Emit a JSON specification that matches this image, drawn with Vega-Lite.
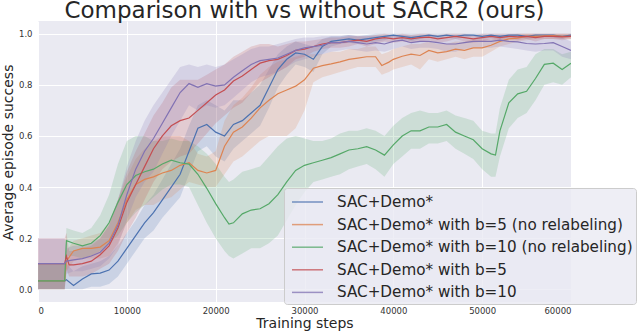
{
"$schema":"https://vega.github.io/schema/vega-lite/v6.json",
"width":533,"height":281,
"autosize":{"type":"none"},
"padding":{"left":38,"top":21,"right":69,"bottom":31},
"background":"white",
"title":{"text":"Comparison with vs without SACR2 (ours)","font":"DejaVu Sans","fontSize":23,"fontWeight":"normal","color":"#262626","anchor":"middle","frame":"group","baseline":"alphabetic","offset":-1,"dy":19},
"config":{
 "view":{"fill":"#EAEAF2","stroke":null},
 "axis":{"domain":false,"ticks":false,"grid":true,"gridColor":"#FFFFFF","gridWidth":1,"labelFont":"DejaVu Sans","labelFontSize":8.5,"labelColor":"#333333","titleFont":"DejaVu Sans","titleFontSize":14,"titleFontWeight":"normal","titleColor":"#262626"}
},
"datasets":{"d":[
{"s":"SAC+Demo*","x":0,"m":0.033,"lo":0,"hi":0.1},{"s":"SAC+Demo*","x":3000,"m":0.033,"lo":0,"hi":0.1},{"s":"SAC+Demo*","x":3200,"m":0.037,"lo":0,"hi":0.1},{"s":"SAC+Demo*","x":4000,"m":0.015,"lo":0,"hi":0.07},{"s":"SAC+Demo*","x":5000,"m":0.04,"lo":0,"hi":0.09},{"s":"SAC+Demo*","x":6000,"m":0.06,"lo":0.01,"hi":0.1},{"s":"SAC+Demo*","x":7000,"m":0.063,"lo":0.01,"hi":0.11},{"s":"SAC+Demo*","x":8000,"m":0.075,"lo":0.02,"hi":0.13},{"s":"SAC+Demo*","x":9000,"m":0.11,"lo":0.05,"hi":0.17},{"s":"SAC+Demo*","x":10000,"m":0.16,"lo":0.1,"hi":0.22},{"s":"SAC+Demo*","x":11000,"m":0.21,"lo":0.15,"hi":0.27},{"s":"SAC+Demo*","x":12000,"m":0.26,"lo":0.2,"hi":0.33},{"s":"SAC+Demo*","x":13000,"m":0.3,"lo":0.23,"hi":0.37},{"s":"SAC+Demo*","x":14000,"m":0.35,"lo":0.28,"hi":0.43},{"s":"SAC+Demo*","x":15000,"m":0.4,"lo":0.32,"hi":0.49},{"s":"SAC+Demo*","x":16000,"m":0.45,"lo":0.36,"hi":0.55},{"s":"SAC+Demo*","x":17000,"m":0.54,"lo":0.45,"hi":0.64},{"s":"SAC+Demo*","x":18000,"m":0.63,"lo":0.54,"hi":0.72},{"s":"SAC+Demo*","x":19000,"m":0.645,"lo":0.56,"hi":0.74},{"s":"SAC+Demo*","x":20000,"m":0.615,"lo":0.52,"hi":0.72},{"s":"SAC+Demo*","x":21000,"m":0.6,"lo":0.5,"hi":0.7},{"s":"SAC+Demo*","x":22000,"m":0.645,"lo":0.55,"hi":0.74},{"s":"SAC+Demo*","x":23000,"m":0.66,"lo":0.58,"hi":0.74},{"s":"SAC+Demo*","x":24000,"m":0.69,"lo":0.61,"hi":0.77},{"s":"SAC+Demo*","x":25000,"m":0.72,"lo":0.64,"hi":0.8},{"s":"SAC+Demo*","x":26000,"m":0.79,"lo":0.71,"hi":0.86},{"s":"SAC+Demo*","x":27000,"m":0.86,"lo":0.79,"hi":0.92},{"s":"SAC+Demo*","x":28000,"m":0.9,"lo":0.84,"hi":0.95},{"s":"SAC+Demo*","x":29000,"m":0.925,"lo":0.88,"hi":0.97},{"s":"SAC+Demo*","x":30000,"m":0.92,"lo":0.87,"hi":0.96},{"s":"SAC+Demo*","x":31000,"m":0.9,"lo":0.85,"hi":0.95},{"s":"SAC+Demo*","x":32000,"m":0.95,"lo":0.92,"hi":0.98},{"s":"SAC+Demo*","x":33000,"m":0.97,"lo":0.95,"hi":0.99},{"s":"SAC+Demo*","x":34000,"m":0.975,"lo":0.96,"hi":0.99},{"s":"SAC+Demo*","x":35000,"m":0.98,"lo":0.965,"hi":0.995},{"s":"SAC+Demo*","x":36000,"m":0.975,"lo":0.96,"hi":0.99},{"s":"SAC+Demo*","x":37000,"m":0.98,"lo":0.965,"hi":0.995},{"s":"SAC+Demo*","x":38000,"m":0.985,"lo":0.97,"hi":1},{"s":"SAC+Demo*","x":39000,"m":0.99,"lo":0.975,"hi":1},{"s":"SAC+Demo*","x":40000,"m":0.995,"lo":0.985,"hi":1},{"s":"SAC+Demo*","x":41000,"m":0.99,"lo":0.98,"hi":1},{"s":"SAC+Demo*","x":42000,"m":0.985,"lo":0.97,"hi":1},{"s":"SAC+Demo*","x":43000,"m":0.99,"lo":0.98,"hi":1},{"s":"SAC+Demo*","x":44000,"m":0.995,"lo":0.985,"hi":1},{"s":"SAC+Demo*","x":45000,"m":0.99,"lo":0.98,"hi":1},{"s":"SAC+Demo*","x":46000,"m":0.995,"lo":0.985,"hi":1},{"s":"SAC+Demo*","x":47000,"m":0.99,"lo":0.98,"hi":1},{"s":"SAC+Demo*","x":48000,"m":0.995,"lo":0.985,"hi":1},{"s":"SAC+Demo*","x":49000,"m":0.995,"lo":0.99,"hi":1},{"s":"SAC+Demo*","x":50000,"m":0.99,"lo":0.98,"hi":1},{"s":"SAC+Demo*","x":51000,"m":0.995,"lo":0.985,"hi":1},{"s":"SAC+Demo*","x":52000,"m":0.99,"lo":0.98,"hi":1},{"s":"SAC+Demo*","x":53000,"m":0.995,"lo":0.985,"hi":1},{"s":"SAC+Demo*","x":54000,"m":0.995,"lo":0.99,"hi":1},{"s":"SAC+Demo*","x":55000,"m":0.99,"lo":0.98,"hi":1},{"s":"SAC+Demo*","x":56000,"m":0.995,"lo":0.985,"hi":1},{"s":"SAC+Demo*","x":57000,"m":0.995,"lo":0.99,"hi":1},{"s":"SAC+Demo*","x":58000,"m":0.995,"lo":0.985,"hi":1},{"s":"SAC+Demo*","x":59000,"m":0.99,"lo":0.98,"hi":1},{"s":"SAC+Demo*","x":60000,"m":0.995,"lo":0.985,"hi":1},

{"s":"SAC+Demo* with b=5 (no relabeling)","x":0,"m":0.033,"lo":0,"hi":0.1},{"s":"SAC+Demo* with b=5 (no relabeling)","x":3000,"m":0.033,"lo":0,"hi":0.1},{"s":"SAC+Demo* with b=5 (no relabeling)","x":3200,"m":0.11,"lo":0.07,"hi":0.15},{"s":"SAC+Demo* with b=5 (no relabeling)","x":4000,"m":0.15,"lo":0.11,"hi":0.19},{"s":"SAC+Demo* with b=5 (no relabeling)","x":5000,"m":0.16,"lo":0.12,"hi":0.2},{"s":"SAC+Demo* with b=5 (no relabeling)","x":6000,"m":0.16,"lo":0.12,"hi":0.21},{"s":"SAC+Demo* with b=5 (no relabeling)","x":7000,"m":0.165,"lo":0.12,"hi":0.22},{"s":"SAC+Demo* with b=5 (no relabeling)","x":8000,"m":0.19,"lo":0.13,"hi":0.26},{"s":"SAC+Demo* with b=5 (no relabeling)","x":9000,"m":0.26,"lo":0.18,"hi":0.35},{"s":"SAC+Demo* with b=5 (no relabeling)","x":10000,"m":0.35,"lo":0.26,"hi":0.44},{"s":"SAC+Demo* with b=5 (no relabeling)","x":11000,"m":0.41,"lo":0.31,"hi":0.51},{"s":"SAC+Demo* with b=5 (no relabeling)","x":12000,"m":0.43,"lo":0.33,"hi":0.55},{"s":"SAC+Demo* with b=5 (no relabeling)","x":13000,"m":0.44,"lo":0.33,"hi":0.58},{"s":"SAC+Demo* with b=5 (no relabeling)","x":14000,"m":0.455,"lo":0.35,"hi":0.6},{"s":"SAC+Demo* with b=5 (no relabeling)","x":15000,"m":0.465,"lo":0.36,"hi":0.6},{"s":"SAC+Demo* with b=5 (no relabeling)","x":16000,"m":0.485,"lo":0.39,"hi":0.6},{"s":"SAC+Demo* with b=5 (no relabeling)","x":17000,"m":0.495,"lo":0.42,"hi":0.58},{"s":"SAC+Demo* with b=5 (no relabeling)","x":18000,"m":0.465,"lo":0.41,"hi":0.53},{"s":"SAC+Demo* with b=5 (no relabeling)","x":19000,"m":0.455,"lo":0.4,"hi":0.52},{"s":"SAC+Demo* with b=5 (no relabeling)","x":20000,"m":0.465,"lo":0.4,"hi":0.54},{"s":"SAC+Demo* with b=5 (no relabeling)","x":21000,"m":0.56,"lo":0.45,"hi":0.66},{"s":"SAC+Demo* with b=5 (no relabeling)","x":22000,"m":0.615,"lo":0.5,"hi":0.72},{"s":"SAC+Demo* with b=5 (no relabeling)","x":23000,"m":0.635,"lo":0.52,"hi":0.75},{"s":"SAC+Demo* with b=5 (no relabeling)","x":24000,"m":0.67,"lo":0.55,"hi":0.79},{"s":"SAC+Demo* with b=5 (no relabeling)","x":25000,"m":0.71,"lo":0.58,"hi":0.84},{"s":"SAC+Demo* with b=5 (no relabeling)","x":26000,"m":0.74,"lo":0.6,"hi":0.87},{"s":"SAC+Demo* with b=5 (no relabeling)","x":27000,"m":0.765,"lo":0.6,"hi":0.89},{"s":"SAC+Demo* with b=5 (no relabeling)","x":28000,"m":0.78,"lo":0.6,"hi":0.9},{"s":"SAC+Demo* with b=5 (no relabeling)","x":29000,"m":0.795,"lo":0.63,"hi":0.91},{"s":"SAC+Demo* with b=5 (no relabeling)","x":30000,"m":0.82,"lo":0.7,"hi":0.92},{"s":"SAC+Demo* with b=5 (no relabeling)","x":31000,"m":0.865,"lo":0.81,"hi":0.92},{"s":"SAC+Demo* with b=5 (no relabeling)","x":32000,"m":0.875,"lo":0.83,"hi":0.92},{"s":"SAC+Demo* with b=5 (no relabeling)","x":33000,"m":0.882,"lo":0.84,"hi":0.93},{"s":"SAC+Demo* with b=5 (no relabeling)","x":34000,"m":0.89,"lo":0.85,"hi":0.93},{"s":"SAC+Demo* with b=5 (no relabeling)","x":35000,"m":0.9,"lo":0.86,"hi":0.94},{"s":"SAC+Demo* with b=5 (no relabeling)","x":36000,"m":0.905,"lo":0.87,"hi":0.94},{"s":"SAC+Demo* with b=5 (no relabeling)","x":37000,"m":0.91,"lo":0.87,"hi":0.95},{"s":"SAC+Demo* with b=5 (no relabeling)","x":38000,"m":0.91,"lo":0.87,"hi":0.95},{"s":"SAC+Demo* with b=5 (no relabeling)","x":38700,"m":0.876,"lo":0.84,"hi":0.92},{"s":"SAC+Demo* with b=5 (no relabeling)","x":39500,"m":0.889,"lo":0.85,"hi":0.93},{"s":"SAC+Demo* with b=5 (no relabeling)","x":40000,"m":0.9,"lo":0.86,"hi":0.94},{"s":"SAC+Demo* with b=5 (no relabeling)","x":41000,"m":0.912,"lo":0.87,"hi":0.95},{"s":"SAC+Demo* with b=5 (no relabeling)","x":42000,"m":0.92,"lo":0.88,"hi":0.96},{"s":"SAC+Demo* with b=5 (no relabeling)","x":43000,"m":0.915,"lo":0.86,"hi":0.96},{"s":"SAC+Demo* with b=5 (no relabeling)","x":44000,"m":0.935,"lo":0.9,"hi":0.97},{"s":"SAC+Demo* with b=5 (no relabeling)","x":45000,"m":0.925,"lo":0.89,"hi":0.96},{"s":"SAC+Demo* with b=5 (no relabeling)","x":46000,"m":0.93,"lo":0.9,"hi":0.96},{"s":"SAC+Demo* with b=5 (no relabeling)","x":47000,"m":0.94,"lo":0.91,"hi":0.97},{"s":"SAC+Demo* with b=5 (no relabeling)","x":48000,"m":0.935,"lo":0.9,"hi":0.97},{"s":"SAC+Demo* with b=5 (no relabeling)","x":49000,"m":0.945,"lo":0.91,"hi":0.98},{"s":"SAC+Demo* with b=5 (no relabeling)","x":50000,"m":0.945,"lo":0.91,"hi":0.98},{"s":"SAC+Demo* with b=5 (no relabeling)","x":51000,"m":0.955,"lo":0.93,"hi":0.98},{"s":"SAC+Demo* with b=5 (no relabeling)","x":52000,"m":0.97,"lo":0.95,"hi":0.99},{"s":"SAC+Demo* with b=5 (no relabeling)","x":53000,"m":0.98,"lo":0.96,"hi":0.995},{"s":"SAC+Demo* with b=5 (no relabeling)","x":54000,"m":0.983,"lo":0.97,"hi":1},{"s":"SAC+Demo* with b=5 (no relabeling)","x":55000,"m":0.99,"lo":0.975,"hi":1},{"s":"SAC+Demo* with b=5 (no relabeling)","x":56000,"m":0.99,"lo":0.98,"hi":1},{"s":"SAC+Demo* with b=5 (no relabeling)","x":57000,"m":0.992,"lo":0.98,"hi":1},{"s":"SAC+Demo* with b=5 (no relabeling)","x":58000,"m":0.993,"lo":0.98,"hi":1},{"s":"SAC+Demo* with b=5 (no relabeling)","x":59000,"m":0.99,"lo":0.98,"hi":1},{"s":"SAC+Demo* with b=5 (no relabeling)","x":60000,"m":0.99,"lo":0.98,"hi":1},

{"s":"SAC+Demo* with b=10 (no relabeling)","x":0,"m":0.033,"lo":0,"hi":0.1},{"s":"SAC+Demo* with b=10 (no relabeling)","x":3000,"m":0.033,"lo":0,"hi":0.1},{"s":"SAC+Demo* with b=10 (no relabeling)","x":3200,"m":0.19,"lo":0.13,"hi":0.24},{"s":"SAC+Demo* with b=10 (no relabeling)","x":4000,"m":0.18,"lo":0.13,"hi":0.23},{"s":"SAC+Demo* with b=10 (no relabeling)","x":5000,"m":0.17,"lo":0.12,"hi":0.22},{"s":"SAC+Demo* with b=10 (no relabeling)","x":6000,"m":0.18,"lo":0.13,"hi":0.24},{"s":"SAC+Demo* with b=10 (no relabeling)","x":7000,"m":0.21,"lo":0.15,"hi":0.29},{"s":"SAC+Demo* with b=10 (no relabeling)","x":8000,"m":0.26,"lo":0.18,"hi":0.37},{"s":"SAC+Demo* with b=10 (no relabeling)","x":9000,"m":0.34,"lo":0.21,"hi":0.49},{"s":"SAC+Demo* with b=10 (no relabeling)","x":10000,"m":0.41,"lo":0.26,"hi":0.58},{"s":"SAC+Demo* with b=10 (no relabeling)","x":11000,"m":0.445,"lo":0.3,"hi":0.6},{"s":"SAC+Demo* with b=10 (no relabeling)","x":12000,"m":0.46,"lo":0.33,"hi":0.6},{"s":"SAC+Demo* with b=10 (no relabeling)","x":13000,"m":0.47,"lo":0.36,"hi":0.58},{"s":"SAC+Demo* with b=10 (no relabeling)","x":14000,"m":0.49,"lo":0.39,"hi":0.58},{"s":"SAC+Demo* with b=10 (no relabeling)","x":15000,"m":0.505,"lo":0.41,"hi":0.59},{"s":"SAC+Demo* with b=10 (no relabeling)","x":16000,"m":0.495,"lo":0.41,"hi":0.58},{"s":"SAC+Demo* with b=10 (no relabeling)","x":17000,"m":0.49,"lo":0.4,"hi":0.58},{"s":"SAC+Demo* with b=10 (no relabeling)","x":18000,"m":0.45,"lo":0.33,"hi":0.56},{"s":"SAC+Demo* with b=10 (no relabeling)","x":19000,"m":0.395,"lo":0.26,"hi":0.53},{"s":"SAC+Demo* with b=10 (no relabeling)","x":20000,"m":0.335,"lo":0.2,"hi":0.49},{"s":"SAC+Demo* with b=10 (no relabeling)","x":21000,"m":0.28,"lo":0.15,"hi":0.44},{"s":"SAC+Demo* with b=10 (no relabeling)","x":21500,"m":0.255,"lo":0.13,"hi":0.42},{"s":"SAC+Demo* with b=10 (no relabeling)","x":22000,"m":0.26,"lo":0.12,"hi":0.43},{"s":"SAC+Demo* with b=10 (no relabeling)","x":23000,"m":0.295,"lo":0.14,"hi":0.46},{"s":"SAC+Demo* with b=10 (no relabeling)","x":24000,"m":0.31,"lo":0.16,"hi":0.47},{"s":"SAC+Demo* with b=10 (no relabeling)","x":25000,"m":0.315,"lo":0.16,"hi":0.48},{"s":"SAC+Demo* with b=10 (no relabeling)","x":26000,"m":0.335,"lo":0.18,"hi":0.52},{"s":"SAC+Demo* with b=10 (no relabeling)","x":27000,"m":0.37,"lo":0.21,"hi":0.56},{"s":"SAC+Demo* with b=10 (no relabeling)","x":28000,"m":0.42,"lo":0.27,"hi":0.59},{"s":"SAC+Demo* with b=10 (no relabeling)","x":29000,"m":0.465,"lo":0.33,"hi":0.6},{"s":"SAC+Demo* with b=10 (no relabeling)","x":30000,"m":0.485,"lo":0.38,"hi":0.59},{"s":"SAC+Demo* with b=10 (no relabeling)","x":31000,"m":0.495,"lo":0.42,"hi":0.58},{"s":"SAC+Demo* with b=10 (no relabeling)","x":32000,"m":0.505,"lo":0.43,"hi":0.58},{"s":"SAC+Demo* with b=10 (no relabeling)","x":33000,"m":0.515,"lo":0.44,"hi":0.59},{"s":"SAC+Demo* with b=10 (no relabeling)","x":34000,"m":0.53,"lo":0.45,"hi":0.61},{"s":"SAC+Demo* with b=10 (no relabeling)","x":35000,"m":0.545,"lo":0.47,"hi":0.62},{"s":"SAC+Demo* with b=10 (no relabeling)","x":36000,"m":0.55,"lo":0.48,"hi":0.62},{"s":"SAC+Demo* with b=10 (no relabeling)","x":37000,"m":0.558,"lo":0.49,"hi":0.63},{"s":"SAC+Demo* with b=10 (no relabeling)","x":38000,"m":0.545,"lo":0.47,"hi":0.62},{"s":"SAC+Demo* with b=10 (no relabeling)","x":39000,"m":0.525,"lo":0.44,"hi":0.6},{"s":"SAC+Demo* with b=10 (no relabeling)","x":40000,"m":0.565,"lo":0.49,"hi":0.64},{"s":"SAC+Demo* with b=10 (no relabeling)","x":41000,"m":0.6,"lo":0.52,"hi":0.67},{"s":"SAC+Demo* with b=10 (no relabeling)","x":42000,"m":0.62,"lo":0.55,"hi":0.69},{"s":"SAC+Demo* with b=10 (no relabeling)","x":43000,"m":0.62,"lo":0.55,"hi":0.7},{"s":"SAC+Demo* with b=10 (no relabeling)","x":44000,"m":0.635,"lo":0.57,"hi":0.69},{"s":"SAC+Demo* with b=10 (no relabeling)","x":45000,"m":0.635,"lo":0.57,"hi":0.69},{"s":"SAC+Demo* with b=10 (no relabeling)","x":46000,"m":0.645,"lo":0.58,"hi":0.7},{"s":"SAC+Demo* with b=10 (no relabeling)","x":47000,"m":0.615,"lo":0.55,"hi":0.68},{"s":"SAC+Demo* with b=10 (no relabeling)","x":48000,"m":0.6,"lo":0.53,"hi":0.67},{"s":"SAC+Demo* with b=10 (no relabeling)","x":49000,"m":0.585,"lo":0.51,"hi":0.66},{"s":"SAC+Demo* with b=10 (no relabeling)","x":50000,"m":0.55,"lo":0.47,"hi":0.62},{"s":"SAC+Demo* with b=10 (no relabeling)","x":51000,"m":0.53,"lo":0.44,"hi":0.61},{"s":"SAC+Demo* with b=10 (no relabeling)","x":51500,"m":0.525,"lo":0.44,"hi":0.61},{"s":"SAC+Demo* with b=10 (no relabeling)","x":52000,"m":0.62,"lo":0.52,"hi":0.71},{"s":"SAC+Demo* with b=10 (no relabeling)","x":53000,"m":0.73,"lo":0.63,"hi":0.82},{"s":"SAC+Demo* with b=10 (no relabeling)","x":54000,"m":0.765,"lo":0.67,"hi":0.86},{"s":"SAC+Demo* with b=10 (no relabeling)","x":55000,"m":0.775,"lo":0.69,"hi":0.87},{"s":"SAC+Demo* with b=10 (no relabeling)","x":56000,"m":0.825,"lo":0.74,"hi":0.92},{"s":"SAC+Demo* with b=10 (no relabeling)","x":57000,"m":0.88,"lo":0.8,"hi":0.94},{"s":"SAC+Demo* with b=10 (no relabeling)","x":58000,"m":0.885,"lo":0.81,"hi":0.94},{"s":"SAC+Demo* with b=10 (no relabeling)","x":59000,"m":0.86,"lo":0.8,"hi":0.92},{"s":"SAC+Demo* with b=10 (no relabeling)","x":60000,"m":0.885,"lo":0.83,"hi":0.93},

{"s":"SAC+Demo* with b=5","x":0,"m":0.1,"lo":0,"hi":0.2},{"s":"SAC+Demo* with b=5","x":3000,"m":0.1,"lo":0,"hi":0.2},{"s":"SAC+Demo* with b=5","x":3200,"m":0.13,"lo":0.08,"hi":0.22},{"s":"SAC+Demo* with b=5","x":3500,"m":0.095,"lo":0.05,"hi":0.15},{"s":"SAC+Demo* with b=5","x":4000,"m":0.095,"lo":0.05,"hi":0.15},{"s":"SAC+Demo* with b=5","x":5000,"m":0.1,"lo":0.05,"hi":0.16},{"s":"SAC+Demo* with b=5","x":6000,"m":0.11,"lo":0.06,"hi":0.17},{"s":"SAC+Demo* with b=5","x":7000,"m":0.135,"lo":0.08,"hi":0.2},{"s":"SAC+Demo* with b=5","x":8000,"m":0.17,"lo":0.1,"hi":0.25},{"s":"SAC+Demo* with b=5","x":9000,"m":0.24,"lo":0.15,"hi":0.35},{"s":"SAC+Demo* with b=5","x":10000,"m":0.34,"lo":0.22,"hi":0.46},{"s":"SAC+Demo* with b=5","x":11000,"m":0.41,"lo":0.28,"hi":0.54},{"s":"SAC+Demo* with b=5","x":12000,"m":0.48,"lo":0.35,"hi":0.61},{"s":"SAC+Demo* with b=5","x":13000,"m":0.55,"lo":0.42,"hi":0.68},{"s":"SAC+Demo* with b=5","x":14000,"m":0.6,"lo":0.47,"hi":0.73},{"s":"SAC+Demo* with b=5","x":15000,"m":0.64,"lo":0.5,"hi":0.79},{"s":"SAC+Demo* with b=5","x":16000,"m":0.66,"lo":0.52,"hi":0.82},{"s":"SAC+Demo* with b=5","x":17000,"m":0.67,"lo":0.53,"hi":0.82},{"s":"SAC+Demo* with b=5","x":18000,"m":0.7,"lo":0.57,"hi":0.82},{"s":"SAC+Demo* with b=5","x":19000,"m":0.73,"lo":0.61,"hi":0.84},{"s":"SAC+Demo* with b=5","x":20000,"m":0.76,"lo":0.65,"hi":0.86},{"s":"SAC+Demo* with b=5","x":21000,"m":0.78,"lo":0.68,"hi":0.88},{"s":"SAC+Demo* with b=5","x":22000,"m":0.815,"lo":0.71,"hi":0.91},{"s":"SAC+Demo* with b=5","x":23000,"m":0.835,"lo":0.73,"hi":0.93},{"s":"SAC+Demo* with b=5","x":24000,"m":0.86,"lo":0.77,"hi":0.95},{"s":"SAC+Demo* with b=5","x":25000,"m":0.885,"lo":0.81,"hi":0.96},{"s":"SAC+Demo* with b=5","x":26000,"m":0.895,"lo":0.83,"hi":0.96},{"s":"SAC+Demo* with b=5","x":27000,"m":0.9,"lo":0.85,"hi":0.95},{"s":"SAC+Demo* with b=5","x":28000,"m":0.915,"lo":0.87,"hi":0.96},{"s":"SAC+Demo* with b=5","x":29000,"m":0.935,"lo":0.9,"hi":0.97},{"s":"SAC+Demo* with b=5","x":30000,"m":0.94,"lo":0.91,"hi":0.97},{"s":"SAC+Demo* with b=5","x":31000,"m":0.95,"lo":0.93,"hi":0.975},{"s":"SAC+Demo* with b=5","x":32000,"m":0.96,"lo":0.94,"hi":0.98},{"s":"SAC+Demo* with b=5","x":33000,"m":0.965,"lo":0.945,"hi":0.985},{"s":"SAC+Demo* with b=5","x":34000,"m":0.965,"lo":0.945,"hi":0.985},{"s":"SAC+Demo* with b=5","x":35000,"m":0.97,"lo":0.95,"hi":0.99},{"s":"SAC+Demo* with b=5","x":36000,"m":0.975,"lo":0.96,"hi":0.99},{"s":"SAC+Demo* with b=5","x":37000,"m":0.97,"lo":0.95,"hi":0.99},{"s":"SAC+Demo* with b=5","x":38000,"m":0.98,"lo":0.96,"hi":0.995},{"s":"SAC+Demo* with b=5","x":39000,"m":0.985,"lo":0.97,"hi":1},{"s":"SAC+Demo* with b=5","x":40000,"m":0.98,"lo":0.965,"hi":0.995},{"s":"SAC+Demo* with b=5","x":41000,"m":0.985,"lo":0.97,"hi":1},{"s":"SAC+Demo* with b=5","x":42000,"m":0.98,"lo":0.965,"hi":0.995},{"s":"SAC+Demo* with b=5","x":43000,"m":0.985,"lo":0.97,"hi":1},{"s":"SAC+Demo* with b=5","x":44000,"m":0.987,"lo":0.975,"hi":1},{"s":"SAC+Demo* with b=5","x":45000,"m":0.98,"lo":0.965,"hi":0.995},{"s":"SAC+Demo* with b=5","x":46000,"m":0.985,"lo":0.97,"hi":1},{"s":"SAC+Demo* with b=5","x":47000,"m":0.99,"lo":0.98,"hi":1},{"s":"SAC+Demo* with b=5","x":48000,"m":0.985,"lo":0.97,"hi":1},{"s":"SAC+Demo* with b=5","x":49000,"m":0.98,"lo":0.965,"hi":0.995},{"s":"SAC+Demo* with b=5","x":50000,"m":0.985,"lo":0.97,"hi":1},{"s":"SAC+Demo* with b=5","x":51000,"m":0.99,"lo":0.98,"hi":1},{"s":"SAC+Demo* with b=5","x":52000,"m":0.985,"lo":0.97,"hi":1},{"s":"SAC+Demo* with b=5","x":53000,"m":0.99,"lo":0.98,"hi":1},{"s":"SAC+Demo* with b=5","x":54000,"m":0.988,"lo":0.975,"hi":1},{"s":"SAC+Demo* with b=5","x":55000,"m":0.99,"lo":0.98,"hi":1},{"s":"SAC+Demo* with b=5","x":56000,"m":0.985,"lo":0.97,"hi":1},{"s":"SAC+Demo* with b=5","x":57000,"m":0.99,"lo":0.98,"hi":1},{"s":"SAC+Demo* with b=5","x":58000,"m":0.99,"lo":0.98,"hi":1},{"s":"SAC+Demo* with b=5","x":59000,"m":0.988,"lo":0.975,"hi":1},{"s":"SAC+Demo* with b=5","x":60000,"m":0.99,"lo":0.98,"hi":1},

{"s":"SAC+Demo* with b=10","x":0,"m":0.1,"lo":0,"hi":0.2},{"s":"SAC+Demo* with b=10","x":3000,"m":0.1,"lo":0,"hi":0.2},{"s":"SAC+Demo* with b=10","x":3200,"m":0.11,"lo":0.06,"hi":0.16},{"s":"SAC+Demo* with b=10","x":4000,"m":0.115,"lo":0.07,"hi":0.17},{"s":"SAC+Demo* with b=10","x":5000,"m":0.12,"lo":0.07,"hi":0.17},{"s":"SAC+Demo* with b=10","x":6000,"m":0.13,"lo":0.08,"hi":0.18},{"s":"SAC+Demo* with b=10","x":7000,"m":0.145,"lo":0.09,"hi":0.2},{"s":"SAC+Demo* with b=10","x":8000,"m":0.18,"lo":0.12,"hi":0.25},{"s":"SAC+Demo* with b=10","x":9000,"m":0.25,"lo":0.17,"hi":0.35},{"s":"SAC+Demo* with b=10","x":10000,"m":0.37,"lo":0.27,"hi":0.48},{"s":"SAC+Demo* with b=10","x":11000,"m":0.47,"lo":0.36,"hi":0.58},{"s":"SAC+Demo* with b=10","x":12000,"m":0.54,"lo":0.42,"hi":0.66},{"s":"SAC+Demo* with b=10","x":13000,"m":0.59,"lo":0.46,"hi":0.72},{"s":"SAC+Demo* with b=10","x":14000,"m":0.65,"lo":0.53,"hi":0.77},{"s":"SAC+Demo* with b=10","x":15000,"m":0.71,"lo":0.6,"hi":0.82},{"s":"SAC+Demo* with b=10","x":16000,"m":0.77,"lo":0.66,"hi":0.87},{"s":"SAC+Demo* with b=10","x":17000,"m":0.805,"lo":0.72,"hi":0.88},{"s":"SAC+Demo* with b=10","x":18000,"m":0.79,"lo":0.7,"hi":0.87},{"s":"SAC+Demo* with b=10","x":19000,"m":0.805,"lo":0.72,"hi":0.88},{"s":"SAC+Demo* with b=10","x":20000,"m":0.795,"lo":0.71,"hi":0.87},{"s":"SAC+Demo* with b=10","x":21000,"m":0.8,"lo":0.72,"hi":0.88},{"s":"SAC+Demo* with b=10","x":22000,"m":0.83,"lo":0.75,"hi":0.9},{"s":"SAC+Demo* with b=10","x":23000,"m":0.855,"lo":0.78,"hi":0.92},{"s":"SAC+Demo* with b=10","x":24000,"m":0.88,"lo":0.81,"hi":0.94},{"s":"SAC+Demo* with b=10","x":25000,"m":0.895,"lo":0.83,"hi":0.95},{"s":"SAC+Demo* with b=10","x":26000,"m":0.9,"lo":0.84,"hi":0.95},{"s":"SAC+Demo* with b=10","x":27000,"m":0.905,"lo":0.85,"hi":0.96},{"s":"SAC+Demo* with b=10","x":28000,"m":0.92,"lo":0.87,"hi":0.97},{"s":"SAC+Demo* with b=10","x":29000,"m":0.935,"lo":0.89,"hi":0.98},{"s":"SAC+Demo* with b=10","x":30000,"m":0.945,"lo":0.9,"hi":0.985},{"s":"SAC+Demo* with b=10","x":31000,"m":0.95,"lo":0.91,"hi":0.985},{"s":"SAC+Demo* with b=10","x":32000,"m":0.955,"lo":0.92,"hi":0.99},{"s":"SAC+Demo* with b=10","x":33000,"m":0.965,"lo":0.93,"hi":0.99},{"s":"SAC+Demo* with b=10","x":34000,"m":0.965,"lo":0.935,"hi":0.99},{"s":"SAC+Demo* with b=10","x":35000,"m":0.97,"lo":0.94,"hi":0.995},{"s":"SAC+Demo* with b=10","x":36000,"m":0.965,"lo":0.935,"hi":0.99},{"s":"SAC+Demo* with b=10","x":37000,"m":0.96,"lo":0.93,"hi":0.99},{"s":"SAC+Demo* with b=10","x":38000,"m":0.965,"lo":0.935,"hi":0.99},{"s":"SAC+Demo* with b=10","x":39000,"m":0.96,"lo":0.93,"hi":0.99},{"s":"SAC+Demo* with b=10","x":40000,"m":0.97,"lo":0.94,"hi":0.995},{"s":"SAC+Demo* with b=10","x":41000,"m":0.975,"lo":0.95,"hi":0.995},{"s":"SAC+Demo* with b=10","x":42000,"m":0.965,"lo":0.94,"hi":0.99},{"s":"SAC+Demo* with b=10","x":43000,"m":0.97,"lo":0.945,"hi":0.99},{"s":"SAC+Demo* with b=10","x":44000,"m":0.97,"lo":0.945,"hi":0.99},{"s":"SAC+Demo* with b=10","x":45000,"m":0.965,"lo":0.94,"hi":0.99},{"s":"SAC+Demo* with b=10","x":46000,"m":0.96,"lo":0.93,"hi":0.985},{"s":"SAC+Demo* with b=10","x":47000,"m":0.96,"lo":0.93,"hi":0.985},{"s":"SAC+Demo* with b=10","x":48000,"m":0.965,"lo":0.94,"hi":0.99},{"s":"SAC+Demo* with b=10","x":49000,"m":0.97,"lo":0.945,"hi":0.99},{"s":"SAC+Demo* with b=10","x":50000,"m":0.97,"lo":0.945,"hi":0.99},{"s":"SAC+Demo* with b=10","x":51000,"m":0.97,"lo":0.945,"hi":0.99},{"s":"SAC+Demo* with b=10","x":52000,"m":0.975,"lo":0.95,"hi":0.995},{"s":"SAC+Demo* with b=10","x":53000,"m":0.97,"lo":0.945,"hi":0.99},{"s":"SAC+Demo* with b=10","x":54000,"m":0.968,"lo":0.94,"hi":0.99},{"s":"SAC+Demo* with b=10","x":55000,"m":0.962,"lo":0.935,"hi":0.99},{"s":"SAC+Demo* with b=10","x":56000,"m":0.96,"lo":0.93,"hi":0.985},{"s":"SAC+Demo* with b=10","x":57000,"m":0.962,"lo":0.935,"hi":0.99},{"s":"SAC+Demo* with b=10","x":58000,"m":0.965,"lo":0.935,"hi":0.99},{"s":"SAC+Demo* with b=10","x":59000,"m":0.95,"lo":0.91,"hi":0.985},{"s":"SAC+Demo* with b=10","x":60000,"m":0.935,"lo":0.9,"hi":0.97}
]},
"data":{"name":"d"},
"encoding":{
 "x":{"field":"x","type":"quantitative","scale":{"domain":[0,60000],"nice":false,"zero":false},"axis":{"values":[0,10000,20000,30000,40000,50000,60000],"format":"d","title":"Training steps","labelPadding":4.5,"titlePadding":1}},
 "color":{"field":"s","type":"nominal","scale":{"domain":["SAC+Demo*","SAC+Demo* with b=5 (no relabeling)","SAC+Demo* with b=10 (no relabeling)","SAC+Demo* with b=5","SAC+Demo* with b=10"],"range":["#4C72B0","#DD8452","#55A868","#C44E52","#8172B3"]},
  "legend":{"title":null,"orient":"none","legendX":246,"legendY":167,"symbolType":"M-0.6,0H2.5","symbolSize":400,"symbolStrokeWidth":1.5,"symbolOpacity":0.75,"labelFont":"DejaVu Sans","labelFontSize":15.2,"labelColor":"#262626","labelOffset":28,"labelLimit":500,"rowPadding":2.6,"padding":3,"fillColor":"rgba(234,234,242,0.8)","strokeColor":"#CCCCCC","cornerRadius":3}}
},
"layer":[
 {"mark":{"type":"area","opacity":0.2,"clip":true},
  "encoding":{
   "y":{"field":"lo","type":"quantitative","scale":{"domain":[-0.05,1.05],"nice":false,"zero":false},"axis":{"values":[0,0.2,0.4,0.6,0.8,1.0],"format":".1f","title":"Average episode success","labelPadding":6,"titlePadding":3,"titleY":131}},
   "y2":{"field":"hi"}
  }},
 {"mark":{"type":"line","strokeWidth":1.2,"clip":true},
  "encoding":{
   "y":{"field":"m","type":"quantitative"}
  }}
]
}
